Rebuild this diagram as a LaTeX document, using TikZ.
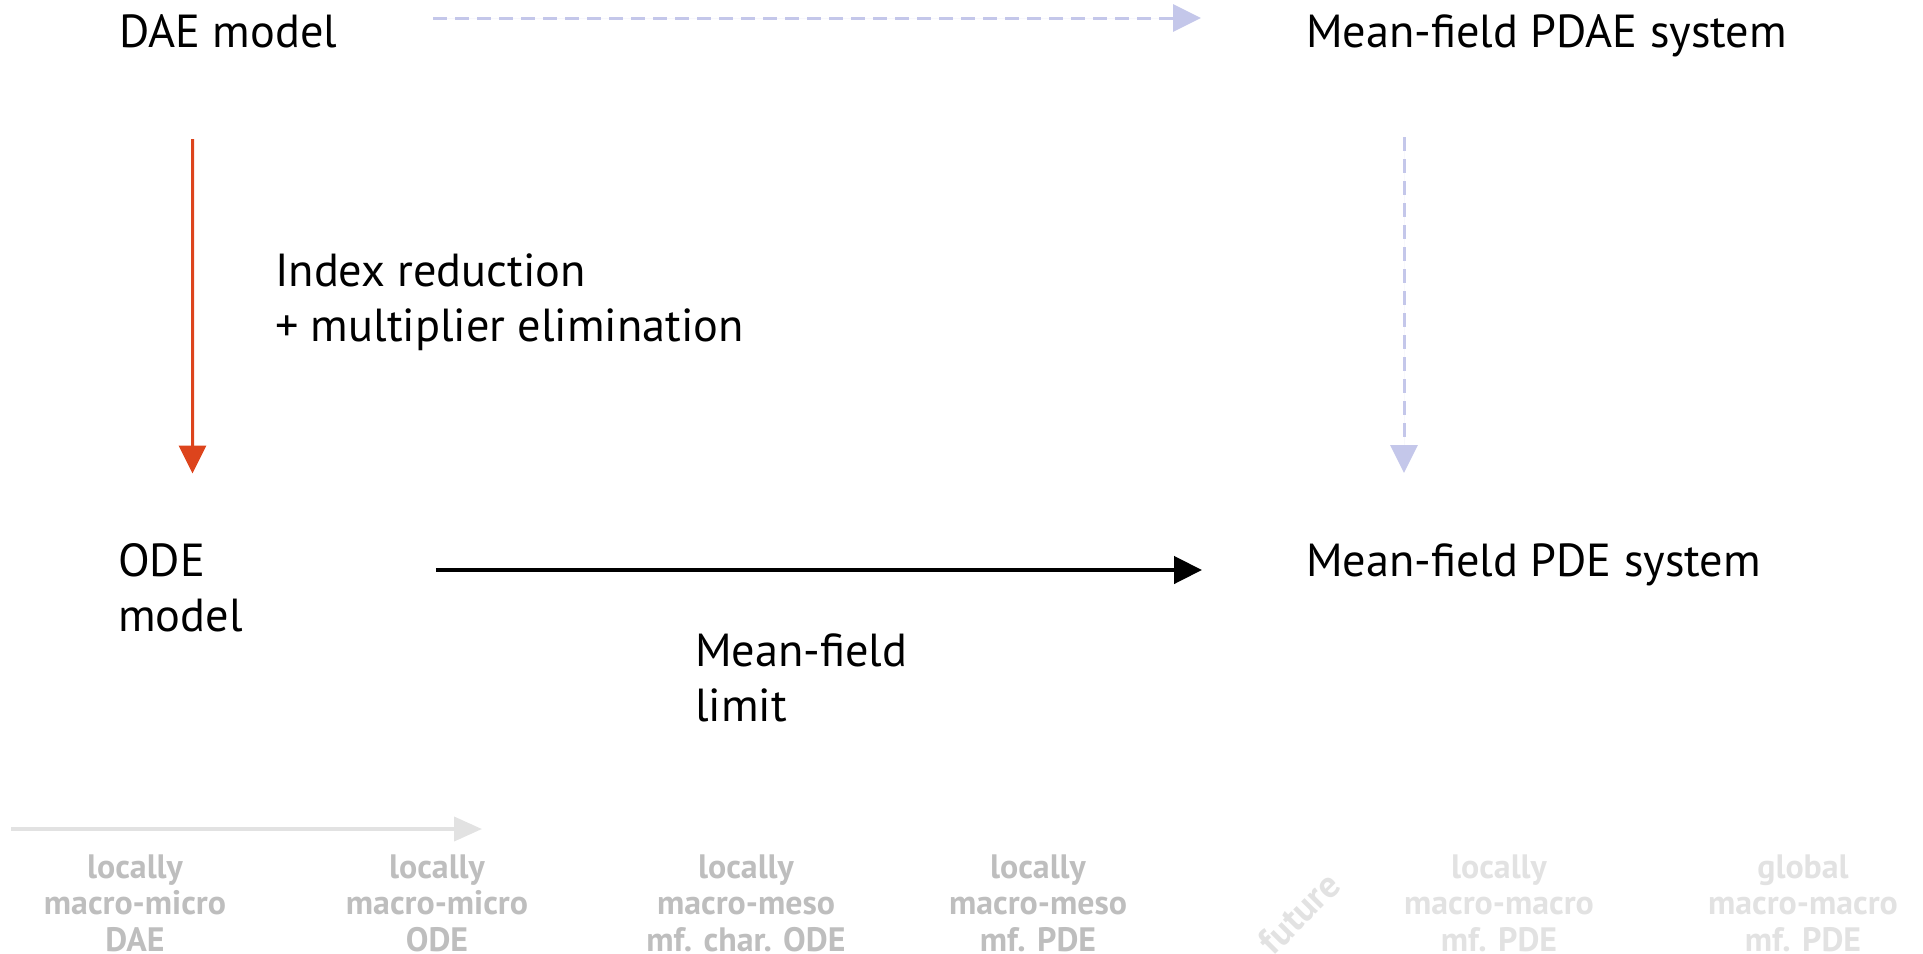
\documentclass[tikz,border=0pt]{standalone}
\usepackage{fontspec}
\setmainfont{PT Sans}
\usetikzlibrary{arrows.meta}
\definecolor{lav}{RGB}{196,199,234}
\definecolor{redo}{RGB}{221,68,28}
\definecolor{greyA}{RGB}{190,190,190}
\definecolor{greyB}{RGB}{226,226,226}
\begin{document}
\begin{tikzpicture}[x=1bp,y=-1bp,
  mainlbl/.style={inner sep=0pt, font=\fontsize{46.5}{54.5}\selectfont, anchor=base west, align=left},
  botlbl/.style={inner sep=0pt, font=\fontsize{34}{36.5}\selectfont\bfseries, align=center, anchor=base},
  tipA/.style={-{Triangle[length=28bp,width=27bp]}},
  lavarrow/.style={tipA, draw=lav, fill=lav, line width=3bp, dash pattern=on 13.5bp off 8.5bp},
  redarrow/.style={tipA, draw=redo, fill=redo, line width=3bp},
  blkarrow/.style={tipA, draw=black, line width=4.5bp},
  greyarrow/.style={-{Triangle[length=28bp,width=24bp]}, draw=greyB, line width=4bp}]
\useasboundingbox (0,0) rectangle (1923,954);

\node[mainlbl] (dae) at (119,47) {DAE model};
\node[mainlbl] (pdae) at (1306,47) {Mean-field PDAE system};
\node[mainlbl] (idx) at (275,341) {Index reduction\\+ multiplier elimination};
\node[mainlbl] (ode) at (118,631) {ODE\\model};
\node[mainlbl] (pde) at (1306,576) {Mean-field PDE system};
\node[mainlbl] (mfl) at (695,721) {Mean-field\\limit};

\draw[lavarrow, shorten <=96bp, shorten >=105bp] ([yshift=29bp]dae.base east) -- ([yshift=29bp]pdae.base west);
\draw[redarrow, shorten <=92bp, shorten >=70bp] ([xshift=73.5bp]dae.base west) -- ([xshift=74.5bp]ode.north west);
\draw[lavarrow, shorten <=90bp, shorten >=70bp] ([xshift=98bp]pdae.base west) -- ([xshift=98bp]pde.north west);
\draw[blkarrow, shorten <=193bp, shorten >=104bp] ([yshift=6bp]pde.base west -| ode.east) -- ([yshift=6bp]pde.base west);

\coordinate (g1) at (11,829);
\coordinate (g2) at (482,829);
\draw[greyarrow] (g1) -- (g2);

\node[botlbl, text=greyA] (l1) at (135,951) {locally\\macro-micro\\DAE};
\node[botlbl, text=greyA] (l2) at (437,951) {locally\\macro-micro\\ODE};
\node[botlbl, text=greyA] (l3) at (746,951) {locally\\macro-meso\\mf. char. ODE};
\node[botlbl, text=greyA] (l4) at (1038,951) {locally\\macro-meso\\mf. PDE};
\node[botlbl, text=greyB, rotate=45, anchor=center, font=\fontsize{37.5}{40}\selectfont\bfseries] (fut) at (1299,913) {future};
\node[botlbl, text=greyB] (l5) at (1499,951) {locally\\macro-macro\\mf. PDE};
\node[botlbl, text=greyB] (l6) at (1803,951) {global\\macro-macro\\mf. PDE};
\end{tikzpicture}
\end{document}
